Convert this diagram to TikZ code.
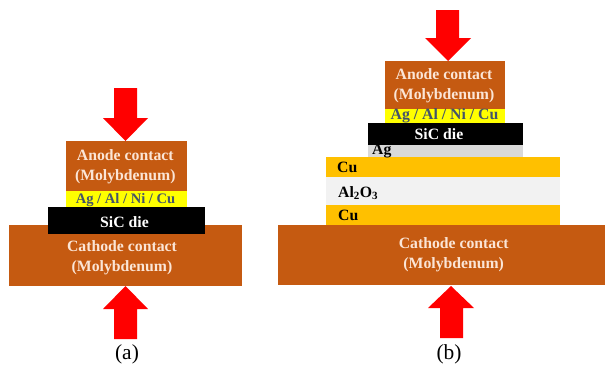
\documentclass[tikz,border=0pt]{standalone}
\usepackage{fontspec}
\setmainfont{Liberation Serif}
\definecolor{moly}{HTML}{C55A11}
\definecolor{solder}{HTML}{FFFF00}
\definecolor{copper}{HTML}{FFC000}
\definecolor{ceramic}{HTML}{F2F2F2}
\definecolor{silver}{HTML}{D9D9D9}
\definecolor{slate}{HTML}{44546A}
\definecolor{cream}{HTML}{FBE5D6}
\tikzset{
  lbl/.style={font=\bfseries\fontsize{15.8}{20}\selectfont,align=center,inner sep=0pt},
  lite/.style={lbl,text=cream},
  whitetxt/.style={lbl,text=white},
  slatetxt/.style={lbl,text=slate},
  dark/.style={lbl,text=black},
  figcap/.style={font=\fontsize{21.5}{24}\selectfont,inner sep=0pt,text=black},
  press/.style={fill=red,draw=none},
}
\begin{document}
\begin{tikzpicture}[x=1bp,y=-1bp]
\useasboundingbox (0,0) rectangle (605,365);
\fill[white] (0,0) rectangle (605,365);
% (a)
\fill[moly] (9,225) rectangle (242,286);
\fill[moly] (66,141) rectangle (187,191);
\fill[solder] (66,191) rectangle (187,207);
\fill[black] (48,207) rectangle (205,234);
\fill[press] (114,88) -- (137,88) -- (137,118) -- (148,118) -- (125.5,141) -- (103,118) -- (114,118) -- cycle;
\fill[press] (125.5,286) -- (148,309) -- (137,309) -- (137,339) -- (114,339) -- (114,309) -- (103,309) -- cycle;
\node[lite] (aanode) at (125.3,167) {Anode contact\\(Molybdenum)};
\node[slatetxt,font=\bfseries\fontsize{14.6}{17}\selectfont] (asolder) at (125.5,200.5) {Ag / Al / Ni / Cu};
\node[whitetxt] (adie) at (124.5,222) {SiC die};
\node[lite] (acath) at (122,258) {Cathode contact\\(Molybdenum)};
\node[figcap] (capa) at (127,354) {(a)};
% (b)
\fill[moly] (278,225) rectangle (605,285);
\fill[copper] (326,157) rectangle (560,177);
\fill[ceramic] (326,177) rectangle (560,205);
\fill[copper] (326,205) rectangle (560,225);
\fill[silver] (368,145) rectangle (523,157);
\fill[black] (368,123) rectangle (523,145);
\fill[solder] (385,109) rectangle (505,123);
\fill[moly] (385,61) rectangle (505,109);
\fill[press] (436,10) -- (459,10) -- (459,38) -- (471,38) -- (448,61) -- (425,38) -- (436,38) -- cycle;
\fill[press] (451,286) -- (474,308) -- (463,308) -- (463,338) -- (440,338) -- (440,308) -- (428,308) -- cycle;
\node[lite] (banode) at (444,86) {Anode contact\\(Molybdenum)};
\node[slatetxt] (bsolder) at (444.5,116) {Ag / Al / Ni / Cu};
\node[whitetxt] (bdie) at (439,134.5) {SiC die};
\node[dark,anchor=west] (bag) at (372,151) {Ag};
\node[dark,anchor=west] (bcu1) at (337,167.5) {Cu};
\node[dark,anchor=west] (bal) at (338,193) {Al\textsubscript{2}O\textsubscript{3}};
\node[dark,anchor=west] (bcu2) at (338,215) {Cu};
\node[lite] (bcath) at (453.7,254.5) {Cathode contact\\(Molybdenum)};
\node[figcap] (capb) at (449,354) {(b)};
\end{tikzpicture}
\end{document}
